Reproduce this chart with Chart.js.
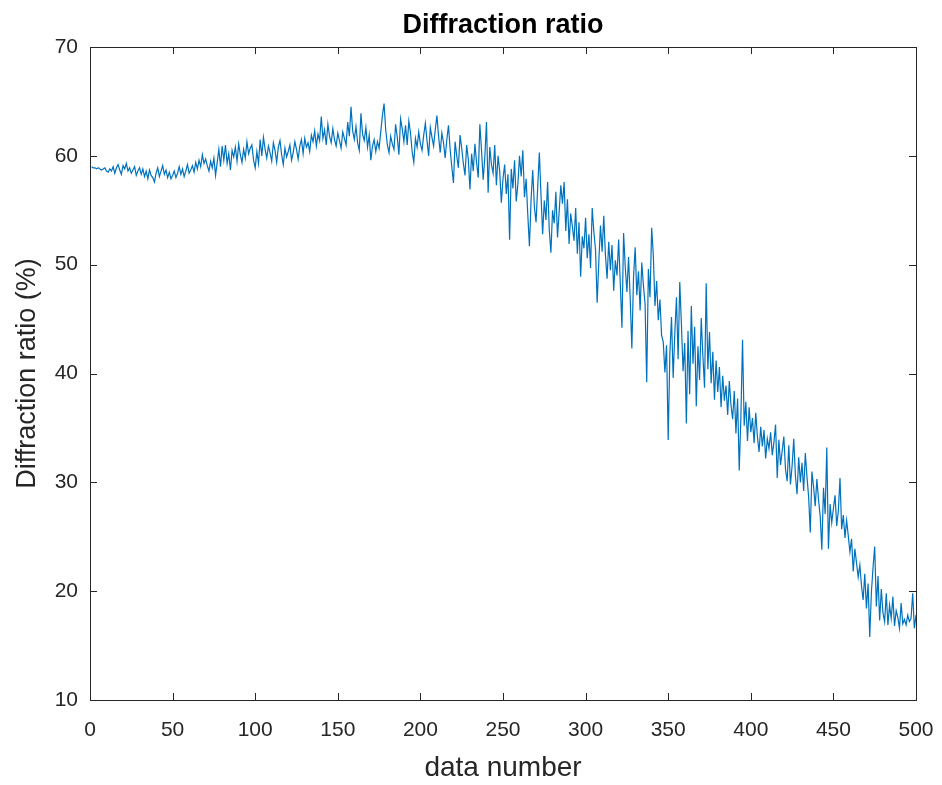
<!DOCTYPE html>
<html>
<head>
<meta charset="utf-8">
<title>Diffraction ratio</title>
<script src="https://cdn.jsdelivr.net/npm/chart.js@4/dist/chart.umd.min.js"></script>
<style>
  html, body { margin: 0; padding: 0; background: #ffffff; }
  canvas { display: block; }
</style>
</head>
<body>
<canvas id="c" width="942" height="785"></canvas>
<script>
// Measured diffraction ratio (%) for data numbers 1..500
const ratio = [
  59.0, 58.9, 58.9, 58.8, 58.9, 58.8, 58.7, 58.8, 58.9, 58.6,
  58.5, 58.8, 58.6, 59.0, 58.4, 58.9, 59.2, 58.7, 58.3, 59.1,
  58.8, 59.3, 58.6, 58.9, 58.4, 58.7, 59.0, 58.2, 58.6, 58.9,
  58.3, 58.8, 58.1, 58.6, 57.9, 58.7, 58.2, 58.0, 57.6, 58.4,
  58.9, 58.1, 58.6, 59.1, 58.3, 58.7, 58.0, 58.5, 57.9, 58.2,
  58.6, 58.0, 58.4, 59.0, 58.3, 58.8, 58.1, 58.6, 59.2, 58.4,
  58.7, 59.1, 58.5, 59.4, 58.8, 59.6, 59.0, 60.1, 59.3, 59.7,
  59.1, 58.6, 59.5, 58.9, 59.8, 58.2, 59.4, 60.6, 59.0, 60.9,
  59.6, 61.0, 59.3, 60.2, 58.7, 60.5, 59.9, 60.8, 59.5, 61.1,
  60.1, 59.4, 60.6, 59.8, 61.3, 60.2, 60.7, 61.0, 59.6, 58.9,
  60.4, 59.3, 61.5, 60.0, 61.7, 60.6, 59.8, 60.9, 60.3, 59.5,
  61.2, 60.5, 59.4, 60.8, 61.4, 60.1, 59.2, 60.7, 59.9, 60.4,
  61.0, 59.6, 60.3, 61.3, 60.6, 59.7, 60.9, 61.5, 60.2, 61.6,
  60.8, 61.2, 60.4, 61.9, 61.3, 62.3, 60.9, 62.0, 61.4, 63.6,
  61.6, 62.4, 61.0, 62.9, 61.8, 61.2, 62.5, 61.5, 60.9, 62.1,
  61.4, 60.7, 62.2, 61.6, 61.0, 63.1, 61.8, 64.5, 62.3, 61.5,
  62.7, 61.2, 60.5, 63.9, 62.0, 61.4, 62.6, 60.8, 61.9, 59.6,
  60.9, 61.5, 60.4, 61.3, 60.7, 62.2, 63.7, 64.8, 62.4, 61.0,
  60.3, 61.8, 61.1, 60.6, 62.9, 61.7, 60.1, 63.4, 62.5, 61.3,
  62.8, 61.0, 63.2, 62.1, 60.4, 59.4, 61.6, 60.8, 62.2, 61.1,
  60.5, 61.9, 63.0, 61.4, 60.0, 62.6, 61.7, 60.9, 62.4, 63.7,
  61.8, 60.3, 62.1, 61.2, 59.8, 61.5, 62.8, 60.6, 59.0, 57.5,
  61.3, 60.0, 58.9, 61.9, 60.7, 59.3, 58.2, 61.0, 59.7, 56.9,
  60.2, 58.6, 61.1, 59.4, 58.0, 62.9, 60.5, 57.8, 59.9, 63.1,
  56.6, 60.8, 59.2, 58.4, 61.0, 57.3, 60.0, 58.6, 55.7, 57.9,
  59.2, 56.5, 58.3, 52.3, 58.8, 57.0, 59.6, 55.8, 57.4, 60.0,
  58.1, 60.5, 56.2, 57.9, 54.6, 51.7, 56.0, 58.7, 55.3, 53.9,
  57.1, 60.3, 56.4, 52.8, 55.9, 54.1, 57.6, 53.2, 51.1, 55.0,
  53.8, 56.7, 52.5, 54.9, 57.3, 55.6, 57.6, 53.1, 56.0, 51.9,
  54.7, 53.5, 52.2, 55.2, 51.0, 53.9, 48.9, 52.6, 51.5, 54.3,
  50.6, 52.8, 49.7, 55.2, 53.0, 51.4, 46.5, 50.3, 53.6, 51.2,
  54.5, 50.9, 48.7, 52.1, 49.5, 51.8, 47.6, 50.4, 49.0, 52.3,
  48.3, 44.2, 52.9, 49.8, 47.5, 50.7, 46.9, 42.3, 48.8, 51.6,
  47.2, 49.4, 45.8, 50.2, 48.1, 46.4, 39.2, 49.6, 47.0, 53.4,
  50.8, 46.2, 48.5, 44.9, 46.8, 43.5, 42.9, 40.1, 42.6, 33.9,
  41.8, 45.2, 39.6, 43.7, 47.0, 41.3, 48.4, 44.5, 40.2, 42.8,
  35.4, 43.9, 38.1, 46.2, 40.9, 44.3, 37.0, 42.5, 39.4, 45.1,
  41.6, 38.7, 48.3, 40.4, 43.8, 39.1, 42.0, 37.6, 41.2, 38.3,
  40.6, 36.9, 39.8, 37.5, 38.9, 36.2, 39.3, 37.1, 35.8, 38.4,
  34.5, 37.7, 31.1, 36.0, 43.1, 35.2, 37.4, 33.8, 36.9, 34.6,
  35.9, 33.6, 36.4, 34.2, 32.8, 35.1, 33.3, 34.8, 32.2, 34.0,
  33.1, 34.6, 32.5, 33.7, 35.3, 30.4, 33.9, 31.6, 32.9, 34.2,
  31.2, 30.1, 33.4, 29.8, 31.5, 34.0, 30.6, 28.9, 32.3, 30.0,
  31.8, 29.2, 32.7, 30.5, 28.7, 25.4, 31.0, 29.6, 27.8, 30.3,
  28.4, 26.9, 23.8, 29.5, 27.1, 33.2, 23.9, 28.0, 26.3, 27.6,
  28.8, 26.0, 27.4, 30.4, 25.7, 27.0, 24.9, 26.5, 25.1, 23.6,
  24.8, 21.8, 23.9, 22.6, 21.3, 22.4, 20.5, 19.2, 21.6, 18.4,
  20.7, 15.8, 19.9, 22.2, 24.1, 18.6, 21.4, 17.3, 20.2, 18.0,
  17.2, 19.8, 16.9, 18.7, 17.5, 19.5, 16.8, 18.2, 17.6, 16.6,
  18.9, 17.0, 17.4, 16.9, 17.8, 17.2, 17.5, 19.8, 16.6, 17.8
];

const xTicks = [0, 50, 100, 150, 200, 250, 300, 350, 400, 450, 500];
const yTicks = [10, 20, 30, 40, 50, 60, 70];

const FONT = '"Liberation Sans", Arial, Helvetica, sans-serif';
const INK = '#262626';

const points = ratio.map((v, i) => ({ x: i + 1, y: v }));

// Box around the plot area with inward-pointing ticks on all four sides
const boxTicks = {
  id: 'boxTicks',
  afterDatasetsDraw(chart) {
    const { ctx, chartArea: a, scales } = chart;
    const len = 7;
    ctx.save();
    ctx.strokeStyle = INK;
    ctx.lineWidth = 1;
    ctx.beginPath();
    scales.x.ticks.forEach(t => {
      const px = Math.round(scales.x.getPixelForValue(t.value)) + 0.5;
      ctx.moveTo(px, a.bottom); ctx.lineTo(px, a.bottom - len);
      ctx.moveTo(px, a.top); ctx.lineTo(px, a.top + len);
    });
    scales.y.ticks.forEach(t => {
      const py = Math.round(scales.y.getPixelForValue(t.value)) + 0.5;
      ctx.moveTo(a.left, py); ctx.lineTo(a.left + len, py);
      ctx.moveTo(a.right, py); ctx.lineTo(a.right - len, py);
    });
    ctx.stroke();
    ctx.strokeRect(Math.round(a.left) + 0.5, Math.round(a.top) + 0.5,
                   Math.round(a.right - a.left), Math.round(a.bottom - a.top));
    ctx.restore();
  }
};

new Chart(document.getElementById('c'), {
  type: 'line',
  data: {
    datasets: [{
      data: points,
      borderColor: '#0072BD',
      borderWidth: 1.2,
      pointRadius: 0,
      tension: 0,
      fill: false
    }]
  },
  options: {
    responsive: false,
    animation: false,
    devicePixelRatio: 1,
    layout: { padding: { left: 0, right: 26, top: 0, bottom: 0 } },
    plugins: {
      legend: { display: false },
      tooltip: { enabled: false },
      title: {
        display: true,
        fullSize: false,
        text: 'Diffraction ratio',
        color: '#000000',
        font: { family: FONT, size: 27, weight: 'bold', lineHeight: 1.2 },
        padding: { top: 9, bottom: 5.6 }
      }
    },
    scales: {
      x: {
        type: 'linear',
        min: 0,
        max: 500,
        afterBuildTicks(s) { s.ticks = xTicks.map(v => ({ value: v })); },
        afterFit(s) { s.height = 85; s.paddingLeft = 0; s.paddingRight = 0; },
        grid: { display: false, drawTicks: false },
        border: { display: false },
        ticks: {
          color: INK,
          padding: 18,
          maxRotation: 0,
          font: { family: FONT, size: 21 }
        },
        title: {
          display: true,
          text: 'data number',
          color: INK,
          font: { family: FONT, size: 28 },
          padding: { top: 0, bottom: 0 }
        }
      },
      y: {
        type: 'linear',
        min: 10,
        max: 70,
        afterBuildTicks(s) { s.ticks = yTicks.map(v => ({ value: v })); },
        afterFit(s) { s.width = 90; s.paddingTop = 0; s.paddingBottom = 0; },
        grid: { display: false, drawTicks: false },
        border: { display: false },
        ticks: {
          color: INK,
          padding: 12,
          font: { family: FONT, size: 21 }
        },
        title: {
          display: true,
          text: 'Diffraction ratio (%)',
          color: INK,
          font: { family: FONT, size: 27 },
          padding: { top: 11, bottom: 0 }
        }
      }
    }
  },
  plugins: [boxTicks]
});
</script>
</body>
</html>
